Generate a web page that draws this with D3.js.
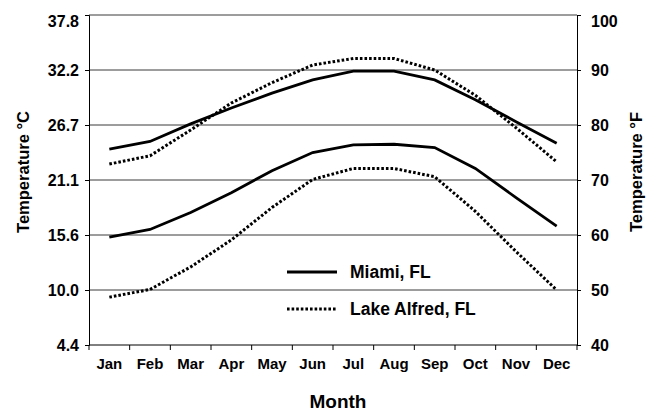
<!DOCTYPE html>
<html>
<head>
<meta charset="utf-8">
<script src="https://cdn.jsdelivr.net/npm/d3@7"></script>
<style>
  html, body { margin: 0; padding: 0; background: #fff; }
  svg { display: block; font-family: "Liberation Sans", Arial, Helvetica, sans-serif; font-weight: bold; }
</style>
</head>
<body>
<svg id="chart" width="654" height="412"></svg>
<script>
// Monthly mean temperatures (°F)
const months = ["Jan","Feb","Mar","Apr","May","Jun","Jul","Aug","Sep","Oct","Nov","Dec"];
const miamiHigh = [75.6, 77.0, 80.2, 83.1, 85.8, 88.2, 89.8, 89.8, 88.2, 84.6, 80.6, 76.7];
const miamiLow  = [59.6, 61.0, 64.1, 67.7, 71.7, 75.0, 76.4, 76.5, 75.9, 72.1, 66.8, 61.6];
const lakeHigh  = [72.9, 74.4, 79.1, 84.0, 87.7, 90.9, 92.1, 92.1, 90.0, 85.4, 79.5, 73.3];
const lakeLow   = [48.7, 50.1, 54.2, 59.1, 65.0, 70.1, 72.1, 72.1, 70.6, 64.3, 57.0, 50.0];

// Axis ticks: Fahrenheit on the right, matching Celsius labels on the left
const fTicks = [40, 50, 60, 70, 80, 90, 100];
const cLabels = ["4.4", "10.0", "15.6", "21.1", "26.7", "32.2", "37.8"];

const seriesNames = ["Miami, FL", "Lake Alfred, FL"];

const svg = d3.select("#chart");
const plotLeft = 89, plotRight = 577, plotTop = 15, plotBottom = 345;

const x = d3.scaleBand().domain(months).range([plotLeft, plotRight]);
const y = d3.scaleLinear().domain([40, 100]).range([plotBottom, plotTop]);

// Horizontal gridlines
svg.append("g")
  .selectAll("line")
  .data(fTicks.filter(d => d > 40))
  .join("line")
  .attr("x1", plotLeft).attr("x2", plotRight)
  .attr("y1", d => y(d)).attr("y2", d => y(d))
  .attr("stroke", "#3a3a3a").attr("stroke-width", 1);

// Left axis (°C labels)
const leftAxis = d3.axisLeft(y)
  .tickValues(fTicks)
  .tickSize(4)
  .tickPadding(6)
  .tickFormat((d, i) => cLabels[i]);
const gL = svg.append("g").attr("transform", `translate(${plotLeft},0)`).call(leftAxis);

// Right axis (°F labels)
const rightAxis = d3.axisRight(y)
  .tickValues(fTicks)
  .tickSize(4)
  .tickPadding(10)
  .tickFormat(d3.format("d"));
const gR = svg.append("g").attr("transform", `translate(${plotRight},0)`).call(rightAxis);

// Bottom axis: ticks at month boundaries, labels at month centres
const gB = svg.append("g").attr("transform", `translate(0,${plotBottom})`);
gB.append("line")
  .attr("x1", plotLeft).attr("x2", plotRight)
  .attr("stroke", "#000").attr("stroke-width", 1);
gB.selectAll("line.tick")
  .data(months.concat(["end"]))
  .join("line")
  .attr("class", "tick")
  .attr("x1", (d, i) => plotLeft + i * x.bandwidth())
  .attr("x2", (d, i) => plotLeft + i * x.bandwidth())
  .attr("y1", 0).attr("y2", 5)
  .attr("stroke", "#000");
gB.selectAll("text")
  .data(months)
  .join("text")
  .attr("x", d => x(d) + x.bandwidth() / 2)
  .attr("y", 24)
  .attr("text-anchor", "middle")
  .attr("font-size", 15)
  .text(d => d);

[gL, gR].forEach(g => {
  g.selectAll(".domain").attr("stroke", "#000").attr("stroke-width", 1);
  g.selectAll(".tick line").attr("stroke", "#000");
  g.selectAll(".tick text")
    .attr("font-size", 16)
    .attr("font-weight", "bold")
    .attr("font-family", "'Liberation Sans', Arial, sans-serif")
    .attr("fill", "#000");
  // keep the topmost label inside the frame
  g.selectAll(".tick text").filter(d => d === 100).attr("dy", "0.7em");
});

// Lines
const line = d3.line()
  .x((d, i) => x(months[i]) + x.bandwidth() / 2)
  .y(d => y(d));

const solid = { stroke: "#000", width: 2.8, dash: null };
const dotted = { stroke: "#000", width: 3, dash: "2.6,2.0" };

[[miamiHigh, solid], [miamiLow, solid], [lakeHigh, dotted], [lakeLow, dotted]].forEach(([vals, st]) => {
  svg.append("path")
    .datum(vals)
    .attr("d", line)
    .attr("fill", "none")
    .attr("stroke", st.stroke)
    .attr("stroke-width", st.width)
    .attr("stroke-dasharray", st.dash);
});

// Legend
const legend = svg.append("g");
const legendRows = [
  { name: seriesNames[0], style: solid, y: 272 },
  { name: seriesNames[1], style: dotted, y: 309 }
];
legendRows.forEach(r => {
  legend.append("line")
    .attr("x1", 287).attr("x2", 337)
    .attr("y1", r.y).attr("y2", r.y)
    .attr("stroke", r.style.stroke)
    .attr("stroke-width", r.style.width)
    .attr("stroke-dasharray", r.style.dash);
  legend.append("text")
    .attr("x", 350).attr("y", r.y + 6)
    .attr("font-size", 17.5)
    .text(r.name);
});

// Axis titles
svg.append("text")
  .attr("transform", "translate(29,172) rotate(-90)")
  .attr("text-anchor", "middle")
  .attr("font-size", 16.5)
  .text("Temperature °C");

svg.append("text")
  .attr("transform", "translate(642,172) rotate(-90)")
  .attr("text-anchor", "middle")
  .attr("font-size", 16.5)
  .text("Temperature °F");

svg.append("text")
  .attr("x", 338).attr("y", 408)
  .attr("text-anchor", "middle")
  .attr("font-size", 19)
  .text("Month");
</script>
</body>
</html>
